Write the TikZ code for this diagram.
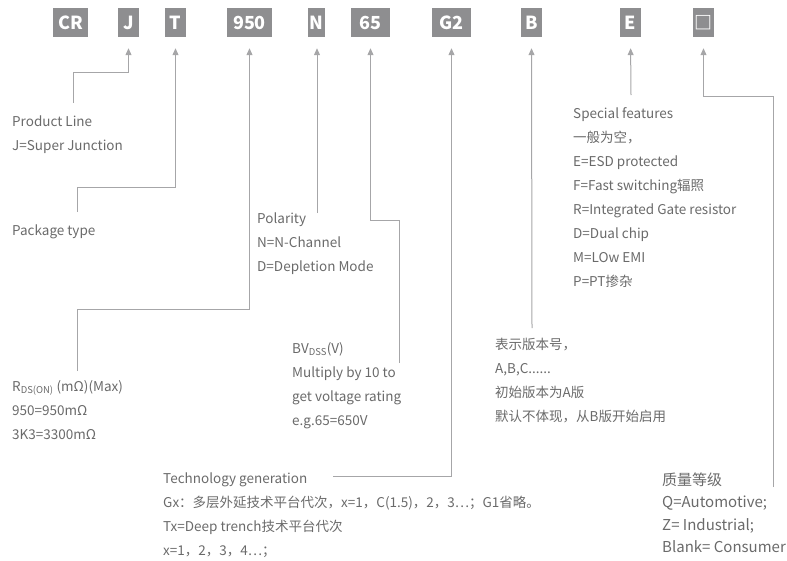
\documentclass[tikz,border=0pt]{standalone}
\usepackage{fontspec}
\setmainfont{Noto Sans CJK SC}
\usetikzlibrary{arrows.meta}
\definecolor{boxgray}{HTML}{8E8E90}
\definecolor{txtgray}{HTML}{6A6A6A}
\definecolor{linegray}{HTML}{A6A6A8}
\begin{document}
\begin{tikzpicture}[x=1pt,y=-1pt,
  code/.style={fill=boxgray,text=white,font=\fontsize{18}{18}\selectfont\bfseries,minimum height=29pt,inner sep=0pt},
  info/.style={text=txtgray,font=\fontsize{13.5}{24}\selectfont,align=left,anchor=base west,inner sep=0pt},
  conn/.style={draw=linegray,line width=1pt,-{Triangle[length=7pt,width=6pt]},shorten >=11pt}]
\useasboundingbox (0,0) rectangle (787,560);
% code boxes
\node[code,minimum width=35pt] (cr) at (70.5,22.5) {CR};
\node[code,minimum width=21pt] (j) at (128.5,22.5) {J};
\node[code,minimum width=21pt] (t) at (175.5,22.5) {T};
\node[code,minimum width=45pt] (rds) at (249.5,22.5) {950};
\node[code,minimum width=17pt] (n) at (316,22.5) {N};
\node[code,minimum width=39pt] (bv) at (370.5,22.5) {65};
\node[code,minimum width=39pt] (g) at (451.5,22.5) {G2};
\node[code,minimum width=21pt] (b) at (531.5,22.5) {B};
\node[code,minimum width=21pt] (e) at (630.5,22.5) {E};
\node[code,minimum width=21pt] (q) at (703.5,22.5) {□};
% info blocks (anchored at the baseline of their last line)
\node[info] (tpl) at (12,150) {Product Line\\J=Super Junction};
\node[info] (tpk) at (12,235) {Package type};
\node[info] (tpo) at (257,271) {Polarity\\N=N-Channel\\D=Depletion Mode};
\node[info] (trd) at (12,439) {R\textsubscript{DS(ON)} (mΩ)(Max)\\950=950mΩ\\3K3=3300mΩ};
\node[info] (tbv) at (292,425) {BV\textsubscript{DSS}(V)\\Multiply by 10 to\\get voltage rating\\e.g.65=650V};
\node[info] (tbb) at (495,421) {表示版本号，\\A,B,C......\\初始版本为A版\\默认不体现，从B版开始启用};
\node[info] (tsf) at (573,286) {Special features\\一般为空，\\E=ESD protected\\F=Fast switching辐照\\R=Integrated Gate resistor\\D=Dual chip\\M=LOw EMI\\P=PT掺杂};
\node[info] (ttg) at (163,555) {Technology generation\\Gx：多层外延技术平台代次，x=1，C(1.5)，2，3…；G1省略。\\Tx=Deep trench技术平台代次\\x=1，2，3，4…；};
\node[info,font=\fontsize{15}{22.5}\selectfont] (tql) at (662,552.5) {质量等级\\Q=Automotive;\\Z= Industrial;\\Blank= Consumer};
% connector free ends
\coordinate (cj) at (73,103);
\coordinate (ct) at (77,212);
\coordinate (cr9) at (77,371);
\coordinate (cn) at (317,213);
\coordinate (c65) at (399,363);
\coordinate (cg) at (333,476);
\coordinate (cb) at (532,328);
\coordinate (ce) at (631,95);
\coordinate (cq) at (773,487);
% connectors
\draw[conn] (cj) |- (j.south |- 0,72) -- (j.south);
\draw[conn] (ct) |- (t.south |- 0,187) -- (t.south);
\draw[conn] (cr9) |- (rds.south |- 0,309) -- (rds.south);
\draw[conn] (cn) -- (n.south -| cn);
\draw[conn] (c65) |- (bv.south |- 0,220) -- (bv.south);
\draw[conn] (cg) -| (g.south);
\draw[conn] (cb) -- (b.south);
\draw[conn] (ce) -- (e.south);
\draw[conn] (cq) |- (q.south |- 0,96) -- (q.south);
\end{tikzpicture}
\end{document}
